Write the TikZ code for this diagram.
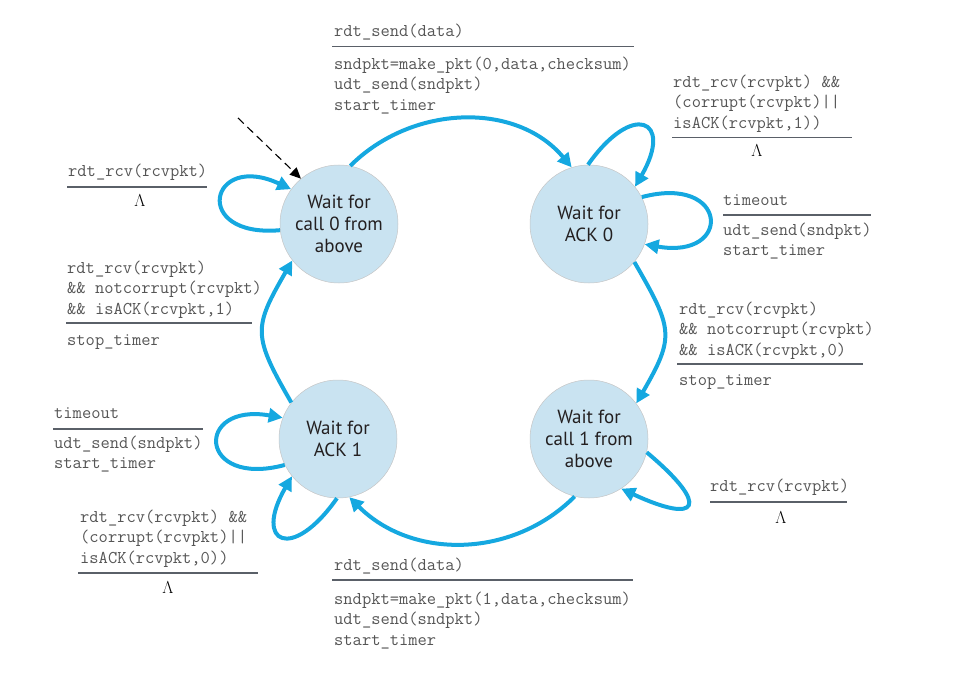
\documentclass[tikz,border=0pt]{standalone}
\usepackage{fontspec}
\usepackage{xcolor}
\usepackage{tikz}
\usetikzlibrary{arrows.meta}
\newfontfamily\statefont{PT Sans}
\definecolor{ink}{HTML}{231F20}
\definecolor{code}{HTML}{555555}
\definecolor{statefill}{HTML}{C9E3F1}
\definecolor{flow}{HTML}{15A8E0}
\definecolor{rulec}{HTML}{5A6068}

\begin{document}
\begin{tikzpicture}[x=1pt, y=1pt,
  state/.style={circle, fill=statefill, draw=gray!45, line width=0.5pt, minimum size=118pt,
                inner sep=0pt, align=center, text=ink, font=\statefont\fontsize{19}{22}\selectfont},
  lbl/.style={anchor=north west, inner sep=0pt, align=left, text=code,
              font=\ttfamily\fontsize{18}{20.5}\selectfont},
  lam/.style={anchor=base, inner sep=0pt, font=\fontsize{16}{18}\selectfont},
  rule/.style={draw=rulec, line width=1.5pt},
  arr/.style={draw=flow, line width=4pt, -{Triangle[length=14pt,width=14pt]}},
  init/.style={black, line width=1.1pt, dash pattern=on 8pt off 5pt, -{Triangle[length=11pt,width=10pt]}}]
  \useasboundingbox (0,0) rectangle (979,-676);
  % states
  \node[state] (w0) at (339,-224) {Wait for\\call 0 from\\above};
  \node[state] (a0) at (589,-224) {Wait for\\ACK 0};
  \node[state] (a1) at (338,-439) {Wait for\\ACK 1};
  \node[state] (w1) at (589,-439) {Wait for\\call 1 from\\above};
  % labels
  \node[lbl] (ev01) at (334,-23.5) {rdt\_send(data)};
  \draw[rule] (332,-46.5) -- (634,-46.5);
  \node[lbl] (ac01) at (334,-56.5) {sndpkt=make\_pkt(0,data,checksum)\\udt\_send(sndpkt)\\start\_timer};
  \node[lbl] (ev0c) at (673,-74.5) {rdt\_rcv(rcvpkt) \&\&\\(corrupt(rcvpkt)||\\isACK(rcvpkt,1))};
  \draw[rule] (672,-137.5) -- (852,-137.5);
  \node[lam] (lm0c) at (757,-157) {$\Lambda$};
  \node[lbl] (ev0t) at (723,-194) {timeout};
  \draw[rule] (723,-215) -- (871,-215);
  \node[lbl] (ac0t) at (723,-222.5) {udt\_send(sndpkt)\\start\_timer};
  \node[lbl] (ev0a) at (679,-301.5) {rdt\_rcv(rcvpkt)\\\&\& notcorrupt(rcvpkt)\\\&\& isACK(rcvpkt,0)};
  \draw[rule] (677,-364) -- (863,-364);
  \node[lbl] (ac0a) at (679,-374) {stop\_timer};
  \node[lbl] (ev1r) at (710,-478.5) {rdt\_rcv(rcvpkt)};
  \draw[rule] (710,-502) -- (847,-502);
  \node[lam] (lm1r) at (781,-523) {$\Lambda$};
  \node[lbl] (ev11) at (334,-557.5) {rdt\_send(data)};
  \draw[rule] (332,-580) -- (633,-580);
  \node[lbl] (ac11) at (334,-591.5) {sndpkt=make\_pkt(1,data,checksum)\\udt\_send(sndpkt)\\start\_timer};
  \node[lbl] (ev1c) at (80,-509.5) {rdt\_rcv(rcvpkt) \&\&\\(corrupt(rcvpkt)||\\isACK(rcvpkt,0))};
  \draw[rule] (78,-573) -- (258,-573);
  \node[lam] (lm1c) at (168,-593) {$\Lambda$};
  \node[lbl] (ev1t) at (54,-407) {timeout};
  \draw[rule] (53,-429) -- (203,-429);
  \node[lbl] (ac1t) at (54,-435.5) {udt\_send(sndpkt)\\start\_timer};
  \node[lbl] (ev1a) at (67,-260.5) {rdt\_rcv(rcvpkt)\\\&\& notcorrupt(rcvpkt)\\\&\& isACK(rcvpkt,1)};
  \draw[rule] (66,-323) -- (252,-323);
  \node[lbl] (ac1a) at (67,-334) {stop\_timer};
  \node[lbl] (ev0r) at (68,-163.5) {rdt\_rcv(rcvpkt)};
  \draw[rule] (67,-187) -- (207,-187);
  \node[lam] (lm0r) at (140,-207) {$\Lambda$};
  % transitions
  \coordinate (st) at (238,-118);
  \draw[init] (st) -- (w0.130);
  \draw[arr] (w0.79) to[out=45, in=130] (a0.107);
  \draw[arr] (a0.-40) to[out=-60, in=60, looseness=1.4] (w1.37);
  \draw[arr] (w1.-104) to[out=-135, in=-45] (a1.-79);
  \draw[arr] (a1.142) to[out=120, in=-120, looseness=1.4] (w0.-142);
  \draw[arr] (w0.186) to[out=185, in=155, distance=90pt] (w0.144);
  \draw[arr] (a0.91) to[out=55, in=60, distance=78pt] (a0.39);
  \draw[arr] (a0.27) to[out=15, in=-10, distance=90pt] (a0.-20);
  \draw[arr] (a1.206) to[out=195, in=170, distance=90pt] (a1.159);
  \draw[arr] (a1.-91) to[out=235, in=240, distance=78pt] (a1.219);
  \draw[arr] (w1.-13) to[out=-40, in=-25, distance=85pt] (w1.-57);
\end{tikzpicture}
\end{document}
